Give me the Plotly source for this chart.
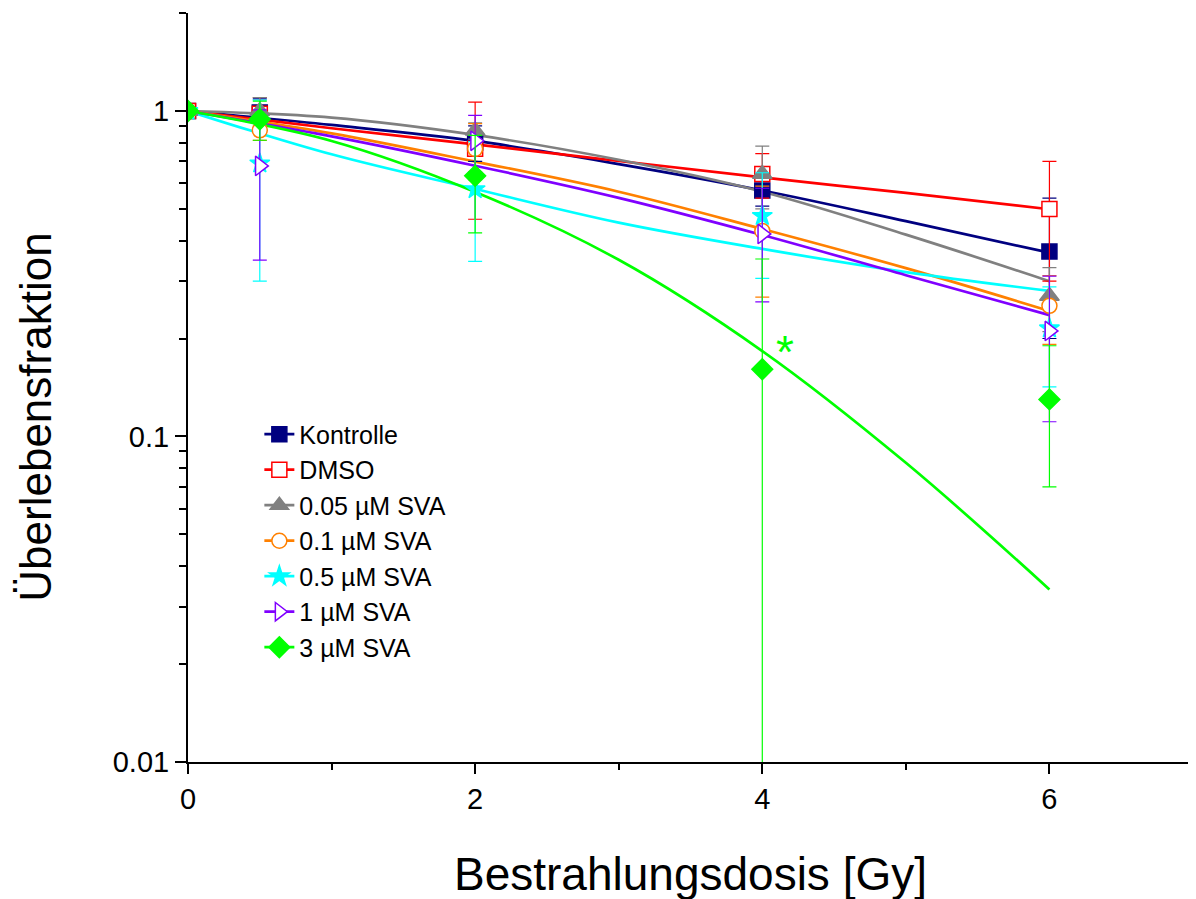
import math
import plotly.graph_objects as go

# ---- data ----
dose = [0, 0.5, 2, 4, 6]
fit_dose = [0, 1, 2, 3, 4, 5, 6]

names = ["Kontrolle", "DMSO", "0.05 µM SVA", "0.1 µM SVA", "0.5 µM SVA", "1 µM SVA", "3 µM SVA"]

kontrolle = [1, 0.99, 0.80, 0.57, 0.37]
kontrolle_err = [0, 0.10, 0.10, 0.06, 0.17]
kontrolle_fit = [1, 0.906, 0.809, 0.687, 0.570, 0.459, 0.367]

dmso = [1, 0.98, 0.765, 0.64, 0.50]
dmso_err = [0, 0.12, 0.30, 0.10, 0.20]
dmso_fit = [1, 0.885, 0.790, 0.702, 0.625, 0.560, 0.499]

sva005 = [1, 1.0, 0.87, 0.64, 0.27]
sva005_err = [0, 0.10, 0.05, 0.14, 0.06]
sva005_fit = [1, 0.954, 0.844, 0.708, 0.565, 0.417, 0.300]

sva01 = [1, 0.872, 0.765, 0.428, 0.252]
sva01_err = [0, 0.06, 0.15, 0.16, 0.06]
sva01_fit = [1, 0.854, 0.699, 0.565, 0.434, 0.329, 0.243]

sva05 = [1, 0.69, 0.575, 0.476, 0.215]
sva05_err = [0, 0.39, 0.23, 0.17, 0.073]
sva05_fit = [1, 0.736, 0.576, 0.454, 0.377, 0.320, 0.280]

sva1 = [1, 0.678, 0.81, 0.419, 0.211]
sva1_err = [0, 0.33, 0.16, 0.16, 0.10]
sva1_fit = [1, 0.836, 0.679, 0.541, 0.416, 0.313, 0.236]

sva3 = [1, 0.943, 0.632, 0.161, 0.13]
sva3_err = [0, 0.13, 0.21, 0.19, 0.06]
sva3_fit = [1, 0.809, 0.564, 0.349, 0.183, 0.083, 0.0339]

y_tickvals = [0.01, 0.1, 1]
y_ticktext = ["0.01", "0.1", "1"]
y_minor = [0.02, 0.03, 0.04, 0.05, 0.06, 0.07, 0.08, 0.09,
           0.2, 0.3, 0.4, 0.5, 0.6, 0.7, 0.8, 0.9, 2]

star_x = 4.16
star_y = 0.182

# ---- styles ----
colors = ["#000080", "#FF0000", "#808080", "#FF8000", "#00FFFF", "#8000FF", "#00FF00"]
fills = ["#000080", "white", "#808080", "white", "#00FFFF", "white", "#00FF00"]
symbols = ["square", "square", "triangle-up", "circle", "star", "triangle-right", "diamond"]
sizes = [15, 15, 17, 15, 15, 17, 16]

series = [kontrolle, dmso, sva005, sva01, sva05, sva1, sva3]
errs = [kontrolle_err, dmso_err, sva005_err, sva01_err, sva05_err, sva1_err, sva3_err]
fits = [kontrolle_fit, dmso_fit, sva005_fit, sva01_fit, sva05_fit, sva1_fit, sva3_fit]

FONT = "Liberation Sans, Arial, sans-serif"

fig = go.Figure()

for i in range(7):
    fig.add_trace(go.Scatter(
        x=fit_dose, y=fits[i], mode="lines", line=dict(color=colors[i], width=2.7, shape="spline"),
        showlegend=False, hoverinfo="skip"))

for i in range(7):
    fig.add_trace(go.Scatter(
        x=dose, y=series[i], mode="markers",
        marker=dict(symbol=symbols[i], size=sizes[i], color=fills[i],
                    line=dict(color=colors[i], width=1.5)),
        error_y=dict(type="data", array=errs[i], visible=True, color=colors[i],
                     thickness=1.2, width=7),
        showlegend=False))

for i in range(7):
    fig.add_trace(go.Scatter(
        x=[None], y=[None], mode="lines+markers", name=names[i],
        line=dict(color=colors[i], width=2.7),
        marker=dict(symbol=symbols[i], size=sizes[i], color=fills[i],
                    line=dict(color=colors[i], width=1.5))))

fig.add_annotation(x=star_x, y=math.log10(star_y),
                   text="*", showarrow=False, font=dict(family=FONT, size=46, color="#00FF00"),
                   xanchor="center", yanchor="middle")

# y-axis title as a rotated annotation (it sits below the axis centre in the reference)
fig.add_annotation(x=-0.152, y=0.46, xref="paper", yref="paper",
                   text="Überlebensfraktion", textangle=-90, showarrow=False,
                   font=dict(family=FONT, size=44, color="black"),
                   xanchor="center", yanchor="middle")

fig.update_layout(
    width=1196, height=899,
    margin=dict(l=180, r=11, t=5, b=145),
    paper_bgcolor="white", plot_bgcolor="white",
    font=dict(family=FONT, color="black"),
    legend=dict(x=0.071, y=0.468, xanchor="left", yanchor="top",
                font=dict(family=FONT, size=25, color="black"),
                bgcolor="rgba(0,0,0,0)", itemwidth=30),
)

fig.update_xaxes(
    range=[0, 7], dtick=2, tick0=0, automargin=False,
    showline=True, linecolor="black", linewidth=2, mirror=False,
    ticks="outside", ticklen=10, tickwidth=2, tickcolor="black",
    minor=dict(ticks="outside", ticklen=6, tickwidth=2, tickcolor="black", dtick=1, showgrid=False),
    showgrid=False, zeroline=False,
    tickfont=dict(family=FONT, size=29),
    title=dict(text="Bestrahlungsdosis [Gy]", font=dict(family=FONT, size=46), standoff=44),
)

fig.update_yaxes(
    type="log", range=[-2, 0.30103], automargin=False,
    tickvals=y_tickvals, ticktext=y_ticktext,
    showline=True, linecolor="black", linewidth=2, mirror=False,
    ticks="outside", ticklen=11, tickwidth=2, tickcolor="black",
    minor=dict(ticks="outside", ticklen=7, tickwidth=2, tickcolor="black",
               tickvals=y_minor, showgrid=False),
    showgrid=False, zeroline=False,
    tickfont=dict(family=FONT, size=29),
)

fig.write_html("out.html")
